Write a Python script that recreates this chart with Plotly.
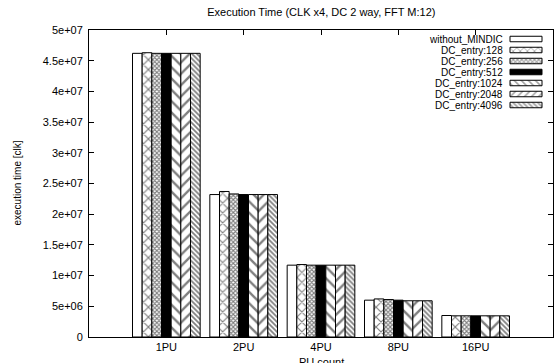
import plotly.graph_objects as go

categories = ["1PU", "2PU", "4PU", "8PU", "16PU"]
series_names = ["without_MINDIC", "DC_entry:128", "DC_entry:256", "DC_entry:512",
                "DC_entry:1024", "DC_entry:2048", "DC_entry:4096"]
without_mindic = [4.62e7, 2.32e7, 1.17e7, 6.0e6, 3.5e6]
dc_128 = [4.63e7, 2.37e7, 1.18e7, 6.2e6, 3.45e6]
dc_256 = [4.62e7, 2.33e7, 1.17e7, 6.1e6, 3.45e6]
dc_512 = [4.62e7, 2.32e7, 1.17e7, 6.0e6, 3.45e6]
dc_1024 = [4.62e7, 2.32e7, 1.17e7, 5.9e6, 3.45e6]
dc_2048 = [4.62e7, 2.32e7, 1.17e7, 5.9e6, 3.45e6]
dc_4096 = [4.62e7, 2.32e7, 1.17e7, 5.9e6, 3.45e6]
series_values = [without_mindic, dc_128, dc_256, dc_512, dc_1024, dc_2048, dc_4096]

y_tickvals = [0, 5e6, 1e7, 1.5e7, 2e7, 2.5e7, 3e7, 3.5e7, 4e7, 4.5e7, 5e7]
y_ticktext = ["0", "5e+06", "1e+07", "1.5e+07", "2e+07", "2.5e+07", "3e+07",
              "3.5e+07", "4e+07", "4.5e+07", "5e+07"]

# styles (not data)
shapes_ = ["", "x", "x", "", "\\", "/", "\\"]
sizes_ = [8, 7, 3, 8, 8, 8, 3.5]
solid_ = [0.2, 0.3, 0.6, 0.2, 0.3, 0.3, 0.5]
fills_ = ["white", "white", "white", "black", "white", "white", "white"]

FONT = "Liberation Sans, Arial, sans-serif"
fig = go.Figure()
for name, vals, sh, sz, so, fc in zip(series_names, series_values, shapes_, sizes_, solid_, fills_):
    fig.add_trace(go.Bar(
        x=categories, y=vals, name=name, showlegend=False,
        marker=dict(color=fc, line=dict(color="black", width=1),
                    pattern=dict(shape=sh, size=sz, solidity=so,
                                 fgcolor="black", bgcolor=fc)),
    ))

# custom legend (text left, swatch right), on pixel-like overlay axes
PLOT_W, PLOT_H = 464, 307
row_y = [9 + 11 * i for i in range(len(series_names))]
fig.add_trace(go.Bar(
    x=[32] * len(series_names), y=row_y, base=421, orientation="h",
    width=5.5, offset=-2.75, xaxis="x2", yaxis="y2", showlegend=False,
    hoverinfo="skip",
    marker=dict(color=fills_, line=dict(color="black", width=1),
                pattern=dict(shape=shapes_, size=[min(s, 5) for s in sizes_],
                             solidity=solid_, fgcolor="black", bgcolor=fills_)),
))
annotations = []
for name, ry in zip(series_names, row_y):
    annotations.append(dict(x=416, y=ry, xref="x2", yref="y2", text=name,
                            showarrow=False, xanchor="right", yanchor="middle",
                            font=dict(family=FONT, size=10, color="black")))

annotations.append(dict(x=0.5, y=0, xref="paper", yref="paper", text="PU count",
                        showarrow=False, xanchor="center", yanchor="top", yshift=-17,
                        font=dict(family=FONT, size=11, color="black")))
annotations.append(dict(x=0, y=0.5, xref="paper", yref="paper",
                        text="execution time [clk]", textangle=-90,
                        showarrow=False, xanchor="center", yanchor="middle", xshift=-72,
                        font=dict(family=FONT, size=10, color="black")))

fig.update_layout(
    width=554, height=363,
    margin=dict(l=89, r=1, t=30, b=26),
    paper_bgcolor="white", plot_bgcolor="white",
    barmode="group", bargap=0.125, bargroupgap=0,
    font=dict(family=FONT, size=11, color="black"),
    title=dict(text="Execution Time (CLK x4, DC 2 way, FFT M:12)", x=0.58, xanchor="center",
               y=1, yanchor="top", yref="container", pad=dict(t=8),
               font=dict(family=FONT, size=11, color="black")),
    xaxis=dict(range=[-1, 5], showline=True, linecolor="black", linewidth=1,
               mirror="ticks", ticks="inside", ticklen=5, tickcolor="black",
               showgrid=False, zeroline=False, tickfont=dict(size=11)),
    yaxis=dict(range=[0, 5e7], tickvals=y_tickvals, ticktext=y_ticktext,
               showline=True, linecolor="black", linewidth=1, mirror="ticks",
               ticks="inside", ticklen=5, tickcolor="black", showgrid=False,
               zeroline=False, tickfont=dict(size=11), ticklabelstandoff=3),
    xaxis2=dict(domain=[0, 1], anchor="y2", overlaying="x", range=[0, PLOT_W],
                visible=False, fixedrange=True),
    yaxis2=dict(domain=[0, 1], anchor="x2", overlaying="y", range=[PLOT_H, 0],
                visible=False, fixedrange=True),
    annotations=annotations,
)

fig.write_html("out.html")
